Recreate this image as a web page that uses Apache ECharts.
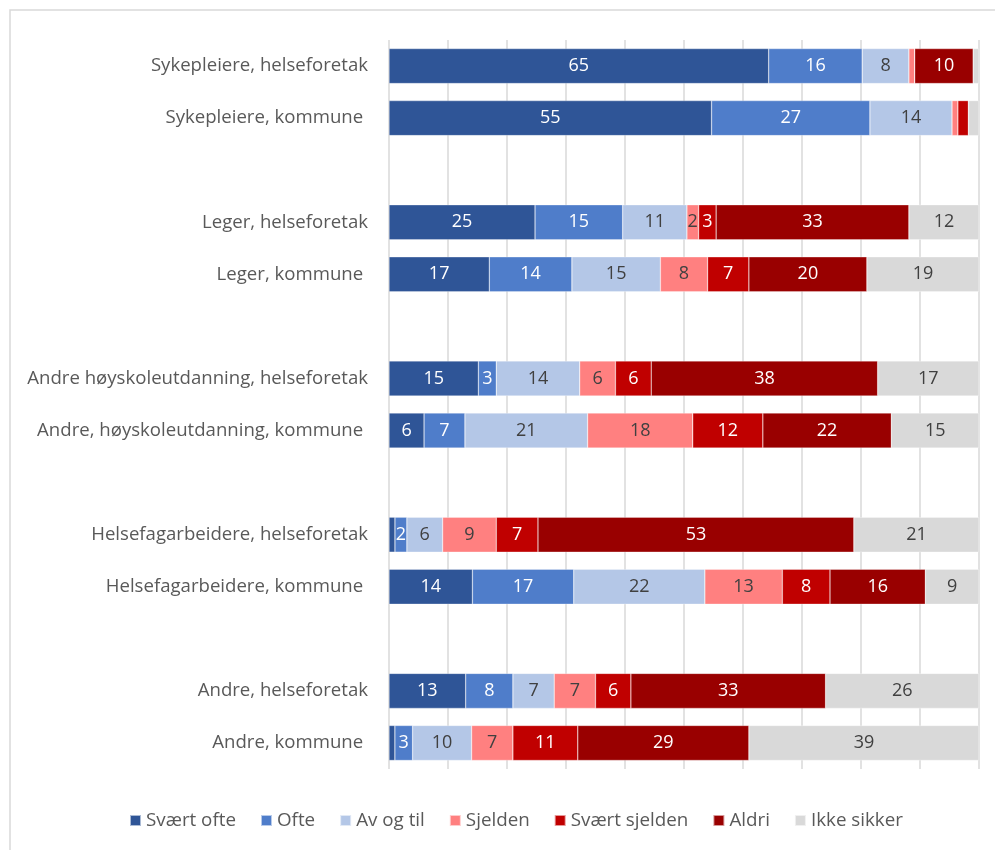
<!DOCTYPE html>
<html>
<head>
<meta charset="utf-8">
<script src="https://cdn.jsdelivr.net/npm/echarts@6/dist/echarts.min.js"></script>
<style>
  html, body { margin: 0; padding: 0; background: #fff; }
  #chart { width: 995px; height: 850px; }
</style>
</head>
<body>
<div id="chart"></div>
<script>
// Row labels, top to bottom; empty strings are spacer rows between groups
const categories = [
  'Sykepleiere, helseforetak', 'Sykepleiere, kommune ', '',
  'Leger, helseforetak', 'Leger, kommune ', '',
  'Andre høyskoleutdanning, helseforetak', 'Andre, høyskoleutdanning, kommune ', '',
  'Helsefagarbeidere, helseforetak', 'Helsefagarbeidere, kommune ', '',
  'Andre, helseforetak', 'Andre, kommune '
];

const seriesNames = ['Svært ofte', 'Ofte', 'Av og til', 'Sjelden', 'Svært sjelden', 'Aldri', 'Ikke sikker'];

// Percent answering each option, per row (null = spacer row)
const svaertOfte   = [65, 55, null, 25, 17, null, 15, 6, null, 1, 14, null, 13, 1];
const ofte         = [16, 27, null, 15, 14, null, 3, 7, null, 2, 17, null, 8, 3];
const avOgTil      = [8, 14, null, 11, 15, null, 14, 21, null, 6, 22, null, 7, 10];
const sjelden      = [1, 1, null, 2, 8, null, 6, 18, null, 9, 13, null, 7, 7];
const svaertSjelden= [0, 1.8, null, 3, 7, null, 6, 12, null, 7, 8, null, 6, 11];
const aldri        = [10, 0, null, 33, 20, null, 38, 22, null, 53, 16, null, 33, 29];
const ikkeSikker   = [1, 1.8, null, 12, 19, null, 17, 15, null, 21, 9, null, 26, 39];

const seriesValues = [svaertOfte, ofte, avOgTil, sjelden, svaertSjelden, aldri, ikkeSikker];
const colors = ['#2F5597', '#4F7DCA', '#B4C7E7', '#FF8080', '#C00000', '#990000', '#D9D9D9'];
const labelColors = ['#ffffff', '#ffffff', '#404040', '#404040', '#ffffff', '#ffffff', '#404040'];

// Row totals so each bar fills 100 %
const rowTotals = categories.map((c, i) =>
  seriesValues.reduce((s, arr) => s + (arr[i] == null ? 0 : arr[i]), 0));

const FONT = 'Open Sans';

const series = seriesValues.map((arr, k) => ({
  name: seriesNames[k],
  type: 'bar',
  stack: 'total',
  barWidth: 35,
  itemStyle: { color: colors[k], borderColor: 'rgba(255,255,255,0.6)', borderWidth: 0.5 },
  label: {
    show: true,
    position: 'inside',
    color: labelColors[k],
    fontFamily: FONT,
    fontSize: 18,
    formatter: p => (p.data && p.data.raw >= 2) ? String(p.data.raw) : ''
  },
  emphasis: { disabled: true },
  data: arr.map((v, i) => v == null ? '-' : { value: v / rowTotals[i] * 100, raw: v })
}));

const chart = echarts.init(document.getElementById('chart'), null, { renderer: 'canvas' });
chart.setOption({
  animation: false,
  backgroundColor: '#ffffff',
  color: colors,
  graphic: [{
    type: 'rect',
    shape: { x: 10, y: 10, width: 1100, height: 1000 },
    style: { fill: 'none', stroke: '#D9D9D9', lineWidth: 1.5 },
    silent: true,
    z: -1
  }],
  grid: { left: 389, right: 16, top: 40, bottom: 81, containLabel: false },
  xAxis: {
    type: 'value',
    min: 0,
    max: 100,
    interval: 10,
    axisLabel: { show: false },
    axisLine: { show: false },
    axisTick: { show: false },
    splitLine: { show: true, lineStyle: { color: '#D9D9D9', width: 1.5 } }
  },
  yAxis: {
    type: 'category',
    inverse: true,
    data: categories,
    axisLine: { show: false },
    axisTick: { show: false },
    axisLabel: {
      margin: 21,
      color: '#595959',
      fontFamily: FONT,
      fontSize: 18.6
    }
  },
  legend: {
    bottom: 15,
    left: 124,
    itemWidth: 11,
    itemHeight: 11,
    itemGap: 24,
    icon: 'rect',
    textStyle: { color: '#595959', fontFamily: FONT, fontSize: 18.8 },
    data: seriesNames
  },
  series: series
});
</script>
</body>
</html>
